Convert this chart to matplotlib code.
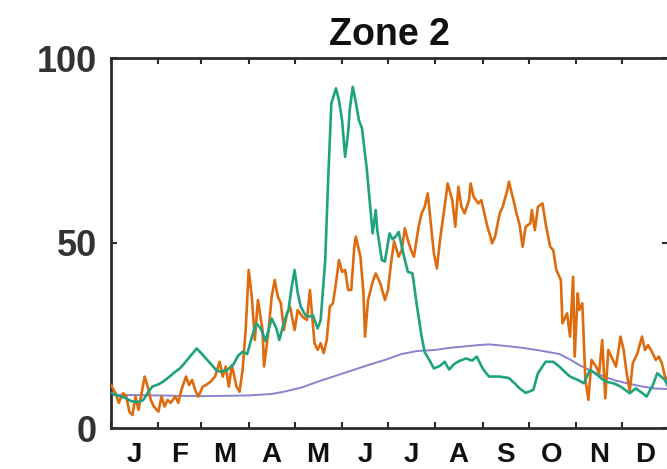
import matplotlib
matplotlib.use("Agg")
import matplotlib.pyplot as plt

# ---- data (day of year, value) ----
green_days = [0, 4, 9, 13, 17, 21, 24, 27, 31, 34, 38, 42, 45, 48, 52, 56, 59, 62, 66, 69,
              72, 76, 80, 83, 86, 89, 92, 95, 98, 101, 105, 108, 110, 113, 116, 118, 120, 122, 124, 127,
              129, 132, 135, 137, 140, 142, 144, 147, 149, 151, 153, 155, 156, 158, 160, 162, 164, 167, 169, 171,
              173, 174, 177, 179, 182, 184, 186, 188, 191, 194, 197, 200, 203, 205, 208, 211, 215, 218, 221, 224,
              227, 232, 236, 239, 243, 247, 254, 260, 264, 267, 271, 276, 279, 284, 289, 293, 297, 300, 305, 309,
              313, 317, 321, 324, 329, 333, 339, 343, 347, 350, 354, 357, 362, 364]
green_vals = [9.5, 8.8, 8.2, 7.3, 7.0, 7.5, 9.5, 11.2, 11.8, 12.5, 13.8, 15.2, 16.1, 17.5, 19.5, 21.5, 20.2, 18.8, 17.0, 15.5,
              15.2, 15.7, 17.2, 19.5, 20.6, 20.0, 24.5, 28.3, 26.8, 23.5, 29.6, 27.0, 23.8, 28.5, 32.0, 38.0, 42.7, 36.5, 32.8, 30.5,
              30.1, 30.4, 26.9, 29.1, 45.4, 67.9, 87.7, 91.8, 88.5, 83.2, 73.3, 80.0, 86.0, 92.2, 88.0, 83.2, 81.0, 70.6, 61.6, 52.6,
              58.9, 53.5, 45.4, 45.0, 52.6, 51.0, 51.7, 53.0, 47.2, 42.2, 41.8, 32.8, 24.7, 20.5, 18.4, 16.1, 16.8, 17.9, 15.8, 17.2,
              18.0, 18.8, 18.2, 19.3, 16.0, 13.9, 13.9, 13.5, 12.0, 10.7, 9.5, 10.3, 14.8, 17.9, 17.9, 16.6, 15.0, 13.9, 13.0, 12.1,
              15.7, 14.6, 13.2, 12.5, 12.0, 11.2, 9.4, 10.7, 9.5, 8.5, 11.5, 14.8, 13.0, 11.2]

orange_days = [0, 3, 5, 8, 10, 12, 14, 16, 18, 20, 22, 24, 26, 28, 31, 33, 35, 37, 39, 42,
               44, 46, 49, 51, 53, 55, 57, 60, 62, 65, 68, 71, 73, 75, 77, 79, 82, 84, 86, 88,
               90, 92, 94, 96, 99, 100, 103, 105, 107, 109, 111, 113, 115, 117, 120, 122, 125, 128, 130, 133,
               135, 137, 139, 141, 143, 145, 147, 149, 151, 153, 155, 157, 159, 160, 163, 165, 166, 168, 171, 173,
               176, 179, 181, 183, 185, 188, 190, 192, 194, 196, 198, 201, 203, 205, 207, 209, 211, 213, 215, 218,
               220, 223, 225, 227, 229, 231, 234, 235, 237, 240, 242, 244, 246, 248, 249, 251, 254, 256, 259, 260,
               263, 265, 267, 269, 271, 274, 275, 277, 279, 282, 284, 287, 289, 291, 294, 295, 298, 300, 302, 303,
               305, 306, 308, 310, 312, 314, 317, 319, 321, 323, 325, 327, 330, 333, 335, 337, 339, 341, 344, 347,
               349, 351, 354, 356, 358, 360, 362, 364]
orange_vals = [11.6, 9.4, 6.8, 9.4, 8.5, 4.4, 3.5, 8.5, 4.9, 9.4, 13.9, 11.2, 7.6, 5.8, 4.4, 8.5, 5.8, 7.6, 6.8, 8.5,
               6.8, 10.3, 13.9, 11.6, 13.0, 10.3, 8.5, 11.2, 11.6, 12.5, 13.9, 17.9, 13.9, 16.6, 11.2, 17.0, 11.2, 9.8, 15.7, 26.5,
               42.7, 35.5, 23.8, 34.6, 26.5, 16.6, 26.5, 35.5, 40.0, 35.5, 33.7, 26.5, 31.0, 32.8, 26.5, 31.9, 30.1, 29.2, 37.3, 22.9,
               21.1, 22.9, 20.2, 23.8, 32.8, 33.7, 39.1, 45.4, 42.2, 42.7, 37.3, 37.3, 49.0, 51.7, 46.3, 36.4, 24.7, 34.6, 39.5, 41.8,
               39.1, 34.6, 37.3, 44.5, 50.4, 46.3, 48.1, 54.0, 50.8, 48.1, 46.3, 54.4, 58.0, 59.8, 63.4, 55.3, 47.2, 43.1, 50.8, 59.8,
               66.1, 61.6, 54.4, 65.2, 59.8, 58.0, 61.6, 66.1, 62.5, 60.7, 61.6, 58.0, 54.4, 51.7, 49.9, 51.7, 58.0, 59.8, 64.3, 66.6,
               61.6, 58.0, 54.9, 49.0, 54.4, 55.3, 58.9, 53.5, 59.8, 60.7, 55.3, 49.0, 48.1, 42.7, 40.0, 28.3, 31.0, 24.7, 40.9, 19.3,
               36.4, 31.9, 33.7, 13.0, 7.6, 18.4, 16.6, 14.8, 23.8, 8.0, 21.1, 19.3, 16.6, 24.7, 21.1, 14.8, 10.0, 17.5, 20.2, 24.7,
               21.1, 22.4, 20.2, 18.4, 19.3, 17.5, 13.9, 13.0]

purple_days = [0, 30, 60, 90, 105, 113, 125, 135, 146, 157, 168, 179, 190, 200, 212, 222, 230, 240, 247, 255,
               262, 270, 278, 285, 293, 300, 306, 314, 322, 330, 337, 346, 355, 364]
purple_vals = [9.0, 8.8, 8.6, 8.8, 9.2, 9.8, 11.0, 12.5, 14.0, 15.5, 17.0, 18.4, 20.0, 20.8, 21.1, 21.7, 22.0, 22.4, 22.6, 22.3,
               22.0, 21.6, 21.1, 20.6, 20.0, 18.5, 17.0, 15.4, 13.9, 12.8, 12.1, 11.3, 10.7, 10.5]

month_starts = [0, 31, 59, 90, 120, 151, 181, 212, 243, 273, 304, 334]
month_mids = [15, 45, 74, 105, 135, 166, 196, 227, 258, 288, 319, 349]
month_labels = ["J", "F", "M", "A", "M", "J", "J", "A", "S", "O", "N", "D"]
y_ticks = [0, 50, 100]
title = "Zone 2"

plt.rcParams['font.family'] = ['Liberation Sans', 'DejaVu Sans']
plt.rcParams['font.weight'] = 'bold'

W, H = 667, 469
fig = plt.figure(figsize=(W / 100, H / 100), dpi=100)
left, right, top, bottom = 111, 668, 58, 428
ax = fig.add_axes([left / W, (H - bottom) / H, (right - left) / W, (bottom - top) / H])

ax.plot(purple_days, purple_vals, color="#8883cf", lw=1.4, zorder=2)
ax.plot(orange_days, orange_vals, color="#de6c0e", lw=1.9, zorder=3)
ax.plot(green_days, green_vals, color="#1fa37f", lw=1.9, zorder=4)

ax.set_xlim(0, 364)
ax.set_ylim(0, 100)

axcol = "#2b2b2b"
for s in ax.spines.values():
    s.set_linewidth(2.0)
    s.set_color(axcol)

ax.set_xticks(month_starts)
ax.set_xticklabels([])
ax.set_xticks(month_mids, minor=True)
ax.set_xticklabels(month_labels, minor=True, fontsize=20, fontweight='bold', color="#111111")
ax.tick_params(axis='x', which='major', direction='in', length=4, width=1.5, top=True, bottom=True, color=axcol)
ax.tick_params(axis='x', which='minor', length=0, pad=10)

ax.set_yticks(y_ticks)
ax.set_yticklabels([str(v) for v in y_ticks], fontsize=26, fontweight='bold', color="#333333")
ax.tick_params(axis='y', direction='in', length=4, width=1.5, left=True, right=True, pad=10, color=axcol)

ax.set_title(title, fontsize=27, fontweight='bold', pad=9.5, color="#111111")

fig.savefig("out.png", dpi=100)
